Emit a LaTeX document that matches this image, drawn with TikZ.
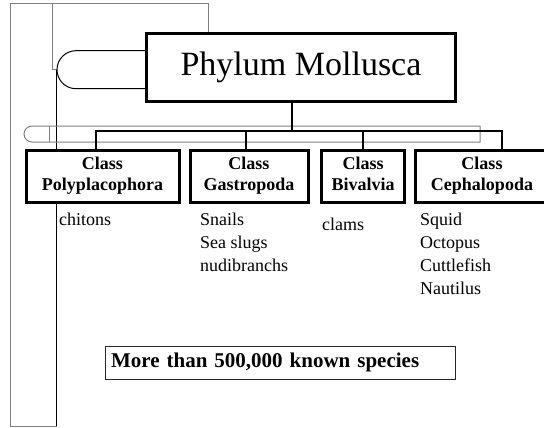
\documentclass[tikz,border=0pt]{standalone}
\usepackage{fontspec}
\setmainfont{Liberation Serif}
\usepackage{xcolor}
\usetikzlibrary{positioning, backgrounds, calc}

\definecolor{framegray}{gray}{0.5}

\begin{document}
\begin{tikzpicture}[
        x=1pt, y=-1pt,
        phylum_block/.style={rectangle, draw=black, line width=2.5pt, fill=white, inner sep=0pt,
                             minimum width=309pt, minimum height=68pt, font=\fontsize{34}{40}\selectfont},
        class_block/.style={rectangle, draw=black, line width=3pt, fill=white, inner sep=0pt,
                            minimum height=52pt, align=center, font=\bfseries\fontsize{18}{21}\selectfont},
        note_box/.style={rectangle, draw=black!85, line width=1pt, minimum width=350pt, minimum height=33pt,
                         text width=338pt, inner xsep=6pt, align=left, font=\bfseries\fontsize{21}{25}\selectfont},
        member_lbl/.style={anchor=north west, inner sep=0pt, align=left, font=\fontsize{18}{23}\selectfont},
        bus_line/.style={line width=2.5pt, black},
        frame_line/.style={line width=1pt, framegray},
        thin_line/.style={line width=1pt, black}
    ]
    \useasboundingbox (0,0) rectangle (544,428);

    % tree
    \node[phylum_block] (phylum) at (301,67.3) {Phylum Mollusca};
    \node[class_block, minimum width=153pt] (poly) at (102.5,176) {Class\\Polyplacophora};
    \node[class_block, minimum width=118pt] (gast) at (249,176) {Class\\Gastropoda};
    \node[class_block, minimum width=83.5pt] (biv) at (363.2,176) {Class\\Bivalvia\vphantom{p}};
    \node[class_block, minimum width=134pt] (ceph) at (482,176) {Class\\Cephalopoda};

    % members
    \node[member_lbl] (poly_list) at (59,212.7) {chitons};
    \node[member_lbl] (gast_list) at (200,212.7) {Snails\\Sea slugs\\nudibranchs};
    \node[member_lbl] (biv_list) at (322,217.7) {clams};
    \node[member_lbl] (ceph_list) at (420,212.7) {Squid\\Octopus\\Cuttlefish\\Nautilus};

    \node[note_box] (species) at (280,362.5) {More than 500,000 known species};

    \coordinate (bus_l) at (96,131);
    \coordinate (bus_r) at (502,131);

    \begin{scope}[on background layer]
        \draw[frame_line] (208,33) -- (208,4) -- (10.7,4) -- (10.7,426) -- (56.7,426);
        \draw[frame_line] (52.5,4) -- (52.5,69.7) -- (56.7,69.7);
        \draw[thin_line] (56.7,69.7) -- (56.7,426);
        \draw[thin_line] (phylum.west |- 0,50.7) -- (76,50.7) arc (270:90:19) -- (phylum.west |- 0,88.7);
        \draw[frame_line] (480,134) -- (480,126) -- (32,126) arc (270:90:8) -- (480,142) -- (480,134);
        \draw[frame_line] (49,126) -- (49,142);
    \end{scope}

    \draw[bus_line] (bus_l |- poly.north) -- (bus_l) -- (bus_r) -- (bus_r |- ceph.north);
    \draw[bus_line] ([xshift=-9pt]phylum.south) -- ([xshift=-9pt]phylum.south |- bus_l);
    \draw[bus_line] ([xshift=-3pt]gast.north) -- ([xshift=-3pt]gast.north |- bus_l);
    \draw[bus_line] (biv.north) -- (biv.north |- bus_l);
\end{tikzpicture}
\end{document}
